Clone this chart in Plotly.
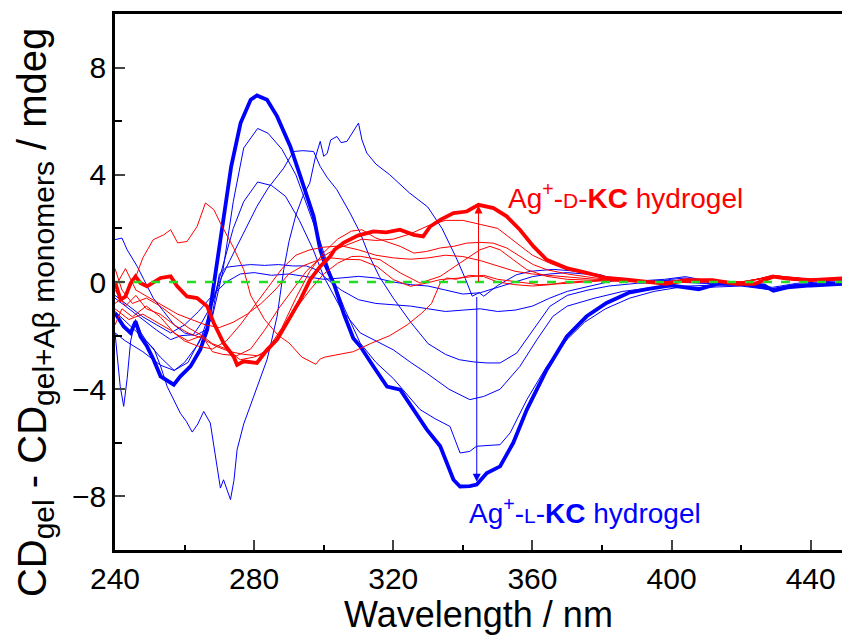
import plotly.graph_objects as go

# ---------------- data (wavelength nm, CD mdeg) ----------------
# Blue family: Ag+-L-KC hydrogel series (thick = final)
wl_b1 = [240,242.5,244.5,245.9,247.3,249.2,251.1,253.1,256.9,258.8,261.7,264.5,266.5,268.4,269.8,271.5,273.4,276.1,279,280.8,283.7,286.6,290.4,293.3,297.1,299,300.4,303.1,305.8,308.5,310.5,314.3,318.2,322,325.9,329.6,333.5,337.3,339.2,342,344,346.9,350.7,354.5,358.4,364.1,369.9,375.6,381.3,387.7,393,399.7,407.8,413.2,419.9,426.6,429.3,433.3,440,449]
cd_b1 = [-1.16,-1.66,-1.9,-1.47,-2.03,-2.4,-2.9,-3.52,-3.83,-3.52,-3.15,-2.53,-1.78,-0.04,1.2,2.6,4.31,5.93,6.8,6.96,6.8,6.18,5.06,3.94,2.45,1.2,0.67,-0.13,-1.2,-2.1,-2.4,-3.15,-3.9,-4.02,-4.76,-5.5,-6.13,-7.38,-7.63,-7.62,-7.56,-7.13,-6.88,-6.0,-4.76,-3.27,-2.03,-1.28,-0.78,-0.4,-0.27,-0.13,-0.27,-0.07,-0.07,-0.13,-0.33,-0.2,-0.13,-0.07]

wl_b2 = [240,243,248,253,257,260,264,268,271,274,277,281,284,288,292,296,299,302,306,310.5,315,320,324,327.7,332,336.3,339.2,342,343.9,347,350.7,353.6,358.4,364.1,369.9,375,381,388,395,402,410,420,429,436,442,449]
cd_b2 = [-1.9,-2.2,-2.6,-3.1,-3.3,-3.0,-2.3,-1.3,0.4,3.0,5.0,5.73,5.55,4.95,4.0,2.6,1.5,0.3,-1.0,-2.28,-3.0,-3.6,-4.2,-4.76,-5.1,-5.39,-6.38,-6.32,-6.13,-6.1,-6.07,-5.63,-4.39,-3.15,-2.15,-1.5,-1.0,-0.6,-0.35,-0.2,-0.2,-0.15,-0.3,-0.15,-0.1,-0.1]

wl_b3 = [240,244,249,253,257,261,265,268,271,274,277,281,285,289,293,297,300,305,310.5,315,320,325,329.6,336,342,346,350.7,356.4,361.3,365.9,370,378,386,395,405,415,422,429,436,442,449]
cd_b3 = [-1.1,-1.6,-2.2,-2.8,-3.3,-3.0,-2.0,-0.8,0.6,2.0,3.0,3.73,3.6,3.2,2.3,1.2,0.2,-1.0,-1.9,-2.2,-2.53,-3.0,-3.4,-4.0,-4.39,-4.27,-4.0,-3.15,-2.15,-1.28,-0.9,-0.6,-0.35,-0.2,-0.15,-0.1,-0.15,-0.3,-0.15,-0.05,0.0]

wl_b4 = [240,244,248,252,256,259,262.5,265,268,270.3,273,276,280.8,284,288.5,291.3,294,297.1,299,301,303.8,307.6,310.5,313,316,320,325,330,335,339,343,346.9,350.7,355.5,360.2,365,370,376,382,390,400,410,420,429,436,442,449]
cd_b4 = [-0.6,-1.0,-1.4,-1.8,-2.15,-2.0,-1.97,-1.5,-0.8,0.09,0.8,1.6,2.82,3.5,4.25,4.87,4.9,4.87,4.31,3.9,3.44,2.57,1.83,1.0,0.2,-0.6,-1.5,-2.3,-2.7,-2.9,-2.98,-3.02,-3.02,-2.65,-1.78,-0.91,-0.5,-0.3,-0.15,-0.05,0.0,-0.05,-0.05,-0.25,-0.1,-0.05,0.0]

wl_b5 = [240,240.6,241.5,242.5,243.5,244.5,245.9,247.5,249,251.2,253,255,256.9,258.8,260.5,262.2,263.8,265.5,267.4,268.8,270.3,271.2,273.2,274.2,275.1,277,279.9,282,283.7,285,286.6,288.5,290,292,294,296,297.5,299,300,301,302,303.8,305,306.7,308,310,311,312.4,315,319,324.6,329.9,334,338,340.7,342.7,344.7,346,350,355.4,359.5,366,373,379.6,386,392,398,404,410,420,429,436,442,449]
cd_b5 = [-1.9,-2.65,-3.9,-4.64,-3.6,-2.2,-1.4,-1.9,-2.2,-2.5,-3.1,-3.9,-4.4,-4.9,-5.2,-5.6,-5.3,-4.83,-5.26,-6.5,-7.69,-7.38,-8.12,-7.4,-6.26,-5.3,-4.27,-3.5,-2.9,-2.2,-1.28,0.46,1.5,2.5,3.2,3.69,4.6,5.25,4.69,4.8,5.3,5.43,5.2,5.25,5.5,5.93,5.3,4.81,4.4,4.0,3.33,2.8,2.0,0.93,0.13,-0.53,-0.4,-0.53,-0.13,0.27,0.4,0.47,0.4,0.27,0.0,0.05,0.1,0.2,0.05,-0.05,-0.2,-0.05,0.0,0.05]

wl_b6 = [240,242,243.5,246.4,248.3,251,254,257,260,263,266,268,270,272,275,279,283,287,291,295,298,301,305,310,315,320,325,330,335,340,345,350,355,360,365,370,375,380,385,390,395,400,404,410,420,429,435,442,449]
cd_b6 = [1.58,1.64,1.2,0.58,0.09,-0.6,-1.1,-1.6,-1.9,-2.0,-1.8,-1.2,0.3,0.55,0.6,0.65,0.62,0.65,0.6,0.6,0.45,0.1,-0.3,-0.66,-0.8,-0.85,-0.9,-1.0,-1.1,-1.05,-1.0,-1.1,-1.05,-0.9,-0.6,-0.35,-0.2,-0.05,0.1,0.05,0.0,0.1,0.15,0.0,-0.1,-0.25,-0.1,-0.05,0.0]

wl_b7 = [240,244,248,252,256,260,264,268,272,276,280,285,290,295,300,305,310,315,320,325,330,335,340,345,350,355,360,365,370,375,380,385,390,400,410,420,429,440,449]
cd_b7 = [-0.5,-0.9,-1.3,-1.6,-1.9,-1.6,-1.1,-0.5,0.0,0.3,0.35,0.25,0.3,0.2,0.1,0.15,0.21,0.15,0.0,-0.1,-0.15,-0.3,-0.45,-0.4,-0.2,0.0,0.2,0.3,0.35,0.3,0.2,0.15,0.05,0.05,-0.05,-0.1,-0.3,-0.1,0.0]

# Red family: Ag+-D-KC hydrogel series (thick = final)
wl_r1 = [240.1,241.6,243,244.5,245.9,247.3,249.2,253.1,256,257.9,260.7,263.6,266.5,268.4,271.2,274.1,275.1,277,280.8,283.7,286.6,289.4,293.3,296.1,299,301.9,303.1,305.8,309.8,314.3,318,321.9,325.9,328.6,330.6,333.5,337.3,341.1,344.5,348.8,352.6,356.4,360.3,364.1,369.8,375.6,381.3,387.1,394.4,398.4,403.8,411.8,418.5,423.9,429.3,433.3,440,449]
cd_r1 = [-0.04,-0.66,-0.54,-0.04,0.21,-0.04,-0.16,0.15,0.21,-0.16,-0.54,-0.6,-0.91,-1.53,-2.28,-2.78,-3.09,-2.96,-3.02,-2.53,-2.15,-1.53,-0.66,0.09,0.58,0.96,1.2,1.47,1.73,1.89,1.85,1.95,1.76,1.7,2.07,2.32,2.57,2.63,2.88,2.76,2.45,1.95,1.33,0.83,0.52,0.34,0.15,0.09,0.0,-0.07,0.07,0.07,-0.07,-0.07,0.2,0.13,0.07,0.13]

wl_r2 = [240,242,245,249,253,257,261,265,268,271,275,279,283,287,291,295,299,303,307,311,315,320,325,330,335,340,345,350,355,360,365,370,378,386,395,405,415,422,429,440,449]
cd_r2 = [0.5,-0.3,-0.8,-0.6,-0.9,-1.3,-1.7,-2.0,-2.6,-2.7,-2.75,-2.5,-1.8,-1.0,-0.3,0.4,0.9,1.2,1.4,1.6,1.55,1.6,1.8,2.1,2.3,2.3,2.15,2.0,1.5,1.0,0.7,0.45,0.25,0.1,0.0,0.05,0.0,0.0,0.25,0.1,0.1]

wl_r3 = [240,243,246,248,251,254,256,258,260.7,263.6,266,268.4,270.3,274,277,279,283,287,290,293.7,297.7,299,300.4,303.1,308.5,313.4,319,324,328.2,331,333.5,335.4,338,342,346,350,355,360,365,370,380,390,400,410,420,429,440,449]
cd_r3 = [-0.8,-0.5,0.2,0.9,1.58,1.76,1.95,1.46,1.51,2.07,2.95,2.7,2.2,1.3,0.46,-0.5,-1.4,-2.0,-2.27,-2.8,-3.07,-2.87,-2.8,-2.73,-2.6,-2.3,-2.0,-1.6,-1.16,-0.8,-0.04,0.15,0.1,0.25,0.2,0.0,-0.1,-0.15,-0.1,0.0,0.05,0.05,0.0,0.0,0.0,0.2,0.1,0.1]

wl_r4 = [240,243,246,249,253,257,261,265,269,273,277,281,284,288,292,296,300,304,308,311,315,318.2,322,325.9,329.6,333.5,337.3,341.1,344.9,348.7,352.6,356.4,360.2,364.1,370,378,386,395,404,412,420,429,435,442,449]
cd_r4 = [-0.3,-0.9,-0.5,-1.0,-1.2,-1.6,-1.9,-2.1,-2.4,-2.6,-2.7,-2.75,-2.5,-1.7,-0.6,0.4,1.1,1.6,1.9,1.95,1.64,1.51,1.33,1.08,1.14,1.27,1.33,1.45,1.48,1.45,1.27,0.96,0.65,0.46,0.3,0.15,0.05,0.0,0.05,0.05,-0.05,0.25,0.15,0.05,0.1]

wl_r5 = [240,242,245,249,253,257,261,265,268,272,276,280,284,288,292,296,300,304,308,310.5,316.2,322,327.7,333.5,339.2,344.9,347.8,350.7,354.5,358.4,364.1,370,380,390,400,410,420,429,440,449]
cd_r5 = [-1.6,-1.0,-1.3,-0.9,-1.3,-1.9,-2.2,-2.0,-2.3,-2.5,-2.9,-2.8,-2.6,-1.9,-1.0,-0.3,0.3,0.7,0.95,0.96,0.83,0.34,-0.04,0.21,0.71,1.2,1.33,1.2,0.83,0.46,0.21,0.1,0.05,0.0,-0.05,0.05,0.0,0.2,0.05,0.1]

wl_r6 = [240,243,246,250,254,258,262,266,270,274,278,282,286,290,294,298,302,306,310.5,315.3,320,324.9,329.6,333.5,339.2,342.9,346,350,356,362,370,380,390,400,410,420,429,440,449]
cd_r6 = [-0.2,0.5,-0.3,-0.6,-0.9,-1.2,-1.4,-1.6,-1.7,-1.5,-1.2,-0.8,-0.3,0.3,0.6,0.8,0.9,0.85,0.83,0.58,0.09,-0.16,-0.04,0.09,0.15,0.21,0.25,0.1,0.0,-0.1,-0.05,0.05,0.05,0.0,0.0,0.0,0.2,0.1,0.1]

wl_r7 = [240,244,248,252,256,260,264,268,272,276,280,284,288,292,296,300,305,310,315,320,325,330,335,340,345,350,355,360,368,378,390,400,412,420,429,440,449]
cd_r7 = [-1.0,-1.4,-1.2,-1.5,-1.8,-2.2,-2.4,-2.5,-2.2,-1.6,-0.9,-0.2,0.5,1.0,1.2,1.3,1.35,1.2,1.0,0.9,0.85,0.9,1.0,0.95,0.8,0.6,0.4,0.3,0.2,0.1,0.05,0.0,0.05,0.0,0.2,0.05,0.1]

zero_wl = [240, 449]
zero_cd = [0, 0]

BLUE = "#0000ff"
RED = "#ff0000"
GREEN = "#22dd22"

fig = go.Figure()

thin_blue = [(wl_b7, cd_b7), (wl_b6, cd_b6), (wl_b5, cd_b5), (wl_b4, cd_b4), (wl_b3, cd_b3), (wl_b2, cd_b2)]
for wl, cd in thin_blue:
    fig.add_trace(go.Scatter(x=wl, y=cd, mode="lines", line=dict(color=BLUE, width=1), showlegend=False, hoverinfo="skip"))
fig.add_trace(go.Scatter(x=wl_b1, y=cd_b1, mode="lines", line=dict(color=BLUE, width=3.8), showlegend=False, hoverinfo="skip"))

thin_red = [(wl_r2, cd_r2), (wl_r3, cd_r3), (wl_r4, cd_r4), (wl_r5, cd_r5), (wl_r6, cd_r6), (wl_r7, cd_r7)]
for wl, cd in thin_red:
    fig.add_trace(go.Scatter(x=wl, y=cd, mode="lines", line=dict(color=RED, width=1), showlegend=False, hoverinfo="skip"))
fig.add_trace(go.Scatter(x=wl_r1, y=cd_r1, mode="lines", line=dict(color=RED, width=3.8), showlegend=False, hoverinfo="skip"))

fig.add_trace(go.Scatter(x=zero_wl, y=zero_cd, mode="lines", line=dict(color=GREEN, width=2.5, dash="dash"), showlegend=False, hoverinfo="skip"))

FONT = "Liberation Sans, Arial, sans-serif"

# arrows
fig.add_annotation(x=344.5, y=2.85, ax=344.5, ay=-0.05, xref="x", yref="y", axref="x", ayref="y",
                   showarrow=True, arrowhead=2, arrowsize=1.6, arrowwidth=1, arrowcolor=RED, text="")
fig.add_annotation(x=344.0, y=-7.45, ax=344.0, ay=-0.5, xref="x", yref="y", axref="x", ayref="y",
                   showarrow=True, arrowhead=2, arrowsize=1.6, arrowwidth=1, arrowcolor=BLUE, text="")

fig.add_annotation(x=386.9, y=3.2, xref="x", yref="y", showarrow=False,
                   text="Ag<sup>+</sup>-<span style='font-size:21px'>D</span>-<b>KC</b> hydrogel",
                   font=dict(family=FONT, size=28, color=RED), xanchor="center", yanchor="middle")
fig.add_annotation(x=375.1, y=-8.55, xref="x", yref="y", showarrow=False,
                   text="Ag<sup>+</sup>-<span style='font-size:21px'>L</span>-<b>KC</b> hydrogel",
                   font=dict(family=FONT, size=28, color=BLUE), xanchor="center", yanchor="middle")

# y-axis title
fig.add_annotation(x=-0.11, y=0.442, xref="paper", yref="paper", showarrow=False, textangle=-90,
                   text="CD<sub><span style='font-size:30px'>gel</span></sub> - CD<sub><span style='font-size:30px'>gel+A\u03b2 monomers</span></sub> / mdeg",
                   font=dict(family=FONT, size=40, color="black"), xanchor="center", yanchor="middle")

fig.update_layout(
    width=842, height=635,
    margin=dict(l=115, r=0, t=14, b=85),
    paper_bgcolor="white", plot_bgcolor="white",
    font=dict(family=FONT, color="black"),
    showlegend=False,
)
fig.update_xaxes(
    range=[240, 449], tick0=240, dtick=40, ticks="inside", ticklen=10, tickwidth=2,
    showline=True, linewidth=2.5, linecolor="black", mirror=True, showgrid=False, zeroline=False,
    tickfont=dict(size=30, family=FONT),
    minor=dict(dtick=20, ticks="inside", ticklen=5, tickwidth=2, tickcolor="black"),
    title=dict(text="Wavelength / nm", font=dict(size=36, family=FONT), standoff=4),
)
fig.update_yaxes(
    range=[-10, 10], tickvals=[-8, -4, 0, 4, 8], ticks="inside", ticklen=10, tickwidth=2,
    showline=True, linewidth=2.5, linecolor="black", mirror=False, showgrid=False, zeroline=False,
    tickfont=dict(size=30, family=FONT),
    minor=dict(tickvals=[-6, -2, 2, 6], ticks="inside", ticklen=7, tickwidth=2, tickcolor="black"),
)

fig.write_html("out.html")
